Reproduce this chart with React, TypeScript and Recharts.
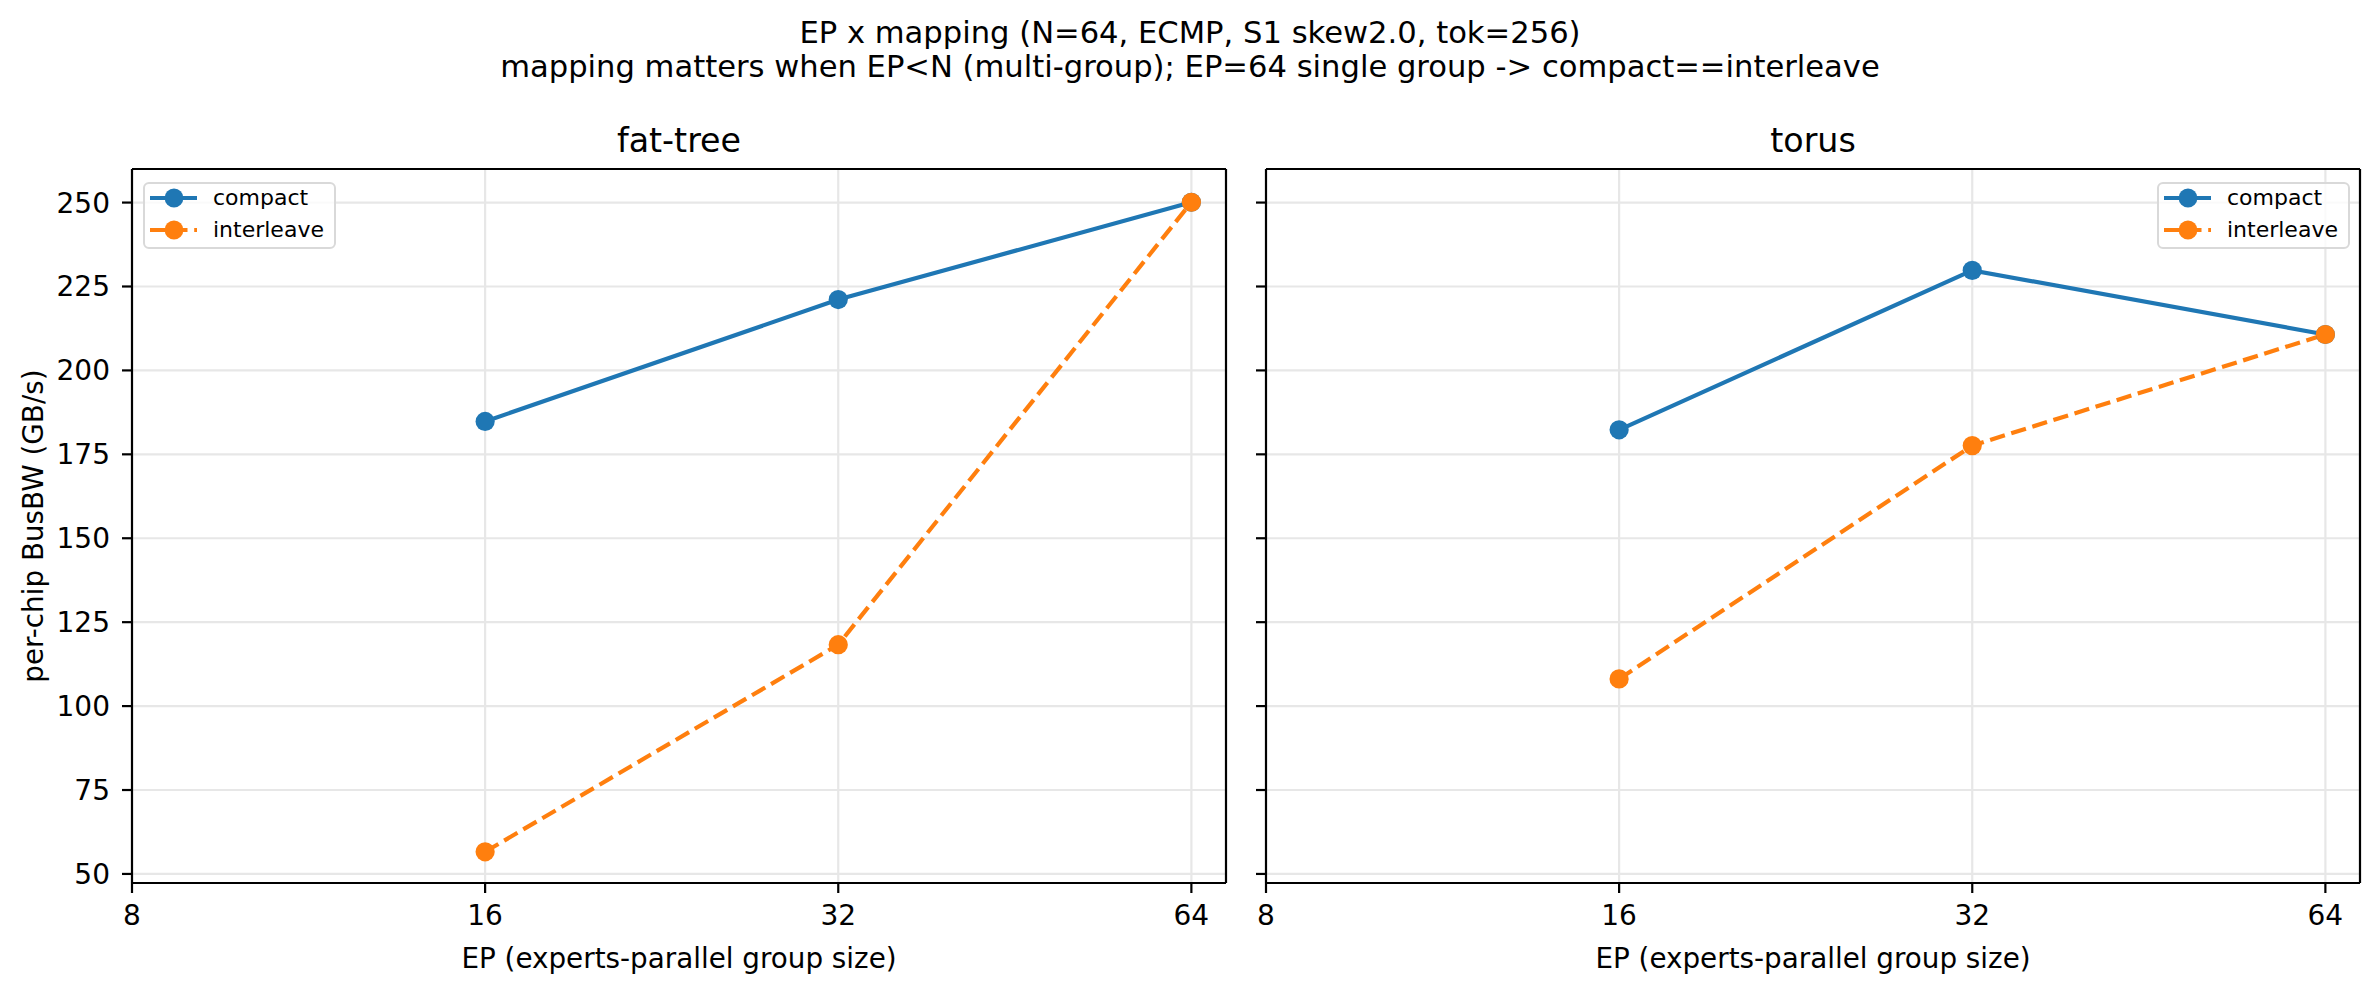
import { CartesianGrid, Legend, Line, LineChart, ReferenceLine, XAxis, YAxis } from 'recharts'

const EP = [16, 32, 64]
const X_TICKS = [8, 16, 32, 64]
const Y_TICKS = [50, 75, 100, 125, 150, 175, 200, 225, 250]
const FAT_TREE_COMPACT = [184.8, 221.1, 250.1]
const FAT_TREE_INTERLEAVE = [56.6, 118.3, 250.1]
const TORUS_COMPACT = [182.3, 229.8, 210.7]
const TORUS_INTERLEAVE = [108.1, 177.6, 210.7]
const X_DOMAIN: [number, number] = [8, 68.5]
const Y_DOMAIN: [number, number] = [47.3, 260]

const BLUE = '#1f77b4'
const ORANGE = '#ff7f0e'
const GRID = '#e7e7e7'
const FONT = 'DejaVu Sans, sans-serif'
const DASH = '15.4 6.7'

const SERIES = [
  { key: 'compact', color: BLUE, dash: undefined as string | undefined },
  { key: 'interleave', color: ORANGE, dash: DASH },
]

function LegendBox() {
  return (
    <div
      style={{
        position: 'relative',
        width: 193,
        height: 67,
        boxSizing: 'border-box',
        border: '2px solid #d9d9d9',
        borderRadius: 6,
        background: 'rgba(255,255,255,0.8)',
        fontFamily: FONT,
        fontSize: 22,
        color: '#000',
      }}
    >
      {SERIES.map((s, i) => (
        <div
          key={s.key}
          style={{ position: 'absolute', left: 0, top: 32 * i - 2, height: 32, display: 'flex', alignItems: 'center' }}
        >
          <svg width={68} height={32} style={{ display: 'block' }}>
            <line x1={5} x2={52} y1={16} y2={16} stroke={s.color} strokeWidth={4.2} strokeDasharray={s.dash} />
            <circle cx={29} cy={16} r={9.4} fill={s.color} />
          </svg>
          <span style={{ lineHeight: '32px', whiteSpace: 'nowrap' }}>{s.key}</span>
        </div>
      ))}
    </div>
  )
}

interface PanelProps {
  left: number
  width: number
  yAxisWidth: number
  marginRight: number
  showYLabels: boolean
  legendLeft: number
  compact: number[]
  interleave: number[]
}

function Panel({ left, width, yAxisWidth, marginRight, showYLabels, legendLeft, compact, interleave }: PanelProps) {
  const rows = EP.map((ep, i) => ({ ep, compact: compact[i], interleave: interleave[i] }))
  const tickStyle = { fontSize: 28, fill: '#000', fontFamily: FONT }
  return (
    <div style={{ position: 'absolute', left, top: 0 }}>
      <LineChart width={width} height={990} data={rows} margin={{ top: 169, right: marginRight, bottom: 0, left: 0 }}>
        <CartesianGrid stroke={GRID} strokeWidth={2.2} />
        <XAxis
          dataKey="ep"
          type="number"
          scale="log"
          domain={X_DOMAIN}
          ticks={X_TICKS}
          allowDataOverflow
          height={107}
          tick={tickStyle}
          tickSize={10}
          tickMargin={12}
          tickLine={{ stroke: '#000', strokeWidth: 2.2 }}
          axisLine={{ stroke: '#000', strokeWidth: 2.2 }}
        />
        <YAxis
          type="number"
          domain={Y_DOMAIN}
          ticks={Y_TICKS}
          allowDataOverflow
          width={yAxisWidth}
          tick={tickStyle}
          tickFormatter={(v: number) => (showYLabels ? String(v) : '')}
          tickSize={10}
          tickMargin={12}
          tickLine={{ stroke: '#000', strokeWidth: 2.2 }}
          axisLine={{ stroke: '#000', strokeWidth: 2.2 }}
        />
        {SERIES.map(s => (
          <Line
            key={s.key}
            dataKey={s.key}
            name={s.key}
            stroke={s.color}
            strokeWidth={4.2}
            strokeDasharray={s.dash}
            dot={{ r: 9.6, fill: s.color, stroke: 'none', strokeWidth: 0 }}
            activeDot={false}
            isAnimationActive={false}
          />
        ))}
        <ReferenceLine y={Y_DOMAIN[1]} stroke="#000" strokeWidth={2.2} />
        <ReferenceLine x={X_DOMAIN[1]} stroke="#000" strokeWidth={2.2} />
        <Legend
          layout="vertical"
          align="center"
          verticalAlign="middle"
          content={() => <LegendBox />}
          wrapperStyle={{ left: legendLeft, top: 182, width: 193, height: 67 }}
        />
      </LineChart>
    </div>
  )
}

export default function App() {
  return (
    <div style={{ position: 'absolute', left: 0, top: 0, width: 2380, height: 990, background: '#fff' }}>
      <Panel
        left={0}
        width={1240}
        yAxisWidth={132}
        marginRight={14}
        showYLabels
        legendLeft={143}
        compact={FAT_TREE_COMPACT}
        interleave={FAT_TREE_INTERLEAVE}
      />
      <Panel
        left={1240}
        width={1140}
        yAxisWidth={26}
        marginRight={20}
        showYLabels={false}
        legendLeft={917}
        compact={TORUS_COMPACT}
        interleave={TORUS_INTERLEAVE}
      />
      <svg
        width={2380}
        height={990}
        style={{ position: 'absolute', left: 0, top: 0, pointerEvents: 'none' }}
        fontFamily={FONT}
      >
        <text x={1190} y={32} fontSize={30.6} textAnchor="middle" dominantBaseline="central">
          EP x mapping (N=64, ECMP, S1 skew2.0, tok=256)
        </text>
        <text x={1190} y={66} fontSize={30.6} textAnchor="middle" dominantBaseline="central">
          {'mapping matters when EP<N (multi-group); EP=64 single group -> compact==interleave'}
        </text>
        <text x={679} y={140} fontSize={33.3} textAnchor="middle" dominantBaseline="central">
          fat-tree
        </text>
        <text x={1813} y={140} fontSize={33.3} textAnchor="middle" dominantBaseline="central">
          torus
        </text>
        <text x={679} y={958} fontSize={27.8} textAnchor="middle" dominantBaseline="central">
          EP (experts-parallel group size)
        </text>
        <text x={1813} y={958} fontSize={27.8} textAnchor="middle" dominantBaseline="central">
          EP (experts-parallel group size)
        </text>
        <text
          x={33}
          y={526}
          fontSize={27.8}
          textAnchor="middle"
          dominantBaseline="central"
          transform="rotate(-90 33 526)"
        >
          per-chip BusBW (GB/s)
        </text>
      </svg>
    </div>
  )
}
